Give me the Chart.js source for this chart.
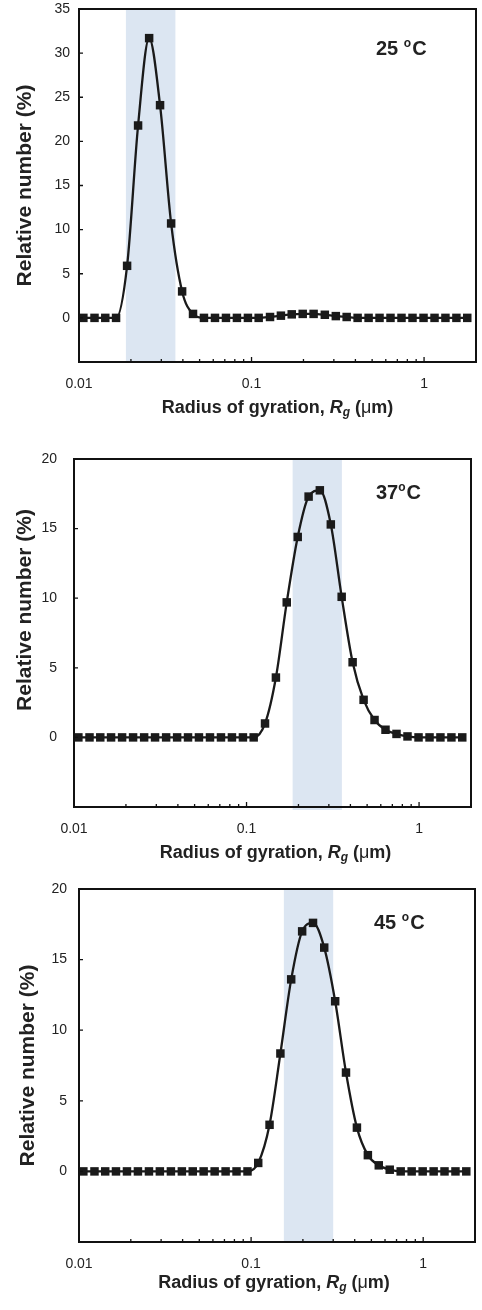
<!DOCTYPE html>
<html>
<head>
<meta charset="utf-8">
<script src="https://cdn.jsdelivr.net/npm/chart.js@4.4.1/dist/chart.umd.min.js"></script>
<style>
  html, body { margin: 0; padding: 0; background: #fff; }
  .panel { position: absolute; left: 0; width: 482px; }
</style>
</head>
<body>
<div class="panel" style="top:0"><canvas id="c25" width="482" height="430"></canvas></div>
<div class="panel" style="top:430px"><canvas id="c37" width="482" height="440"></canvas></div>
<div class="panel" style="top:870px"><canvas id="c45" width="482" height="440"></canvas></div>
<script>
// size classes, radius of gyration (um)
const radius = [0.0106, 0.0123, 0.0142, 0.0164, 0.0190, 0.0220, 0.0255, 0.0295, 0.0342, 0.0396,
                0.0458, 0.0530, 0.0614, 0.0711, 0.0823, 0.0953, 0.110, 0.128, 0.148, 0.171,
                0.198, 0.229, 0.266, 0.308, 0.356, 0.412, 0.477, 0.552, 0.639, 0.740,
                0.857, 0.993, 1.15, 1.33, 1.54, 1.78];

// relative number (%)
const rel25 = [0, 0, 0, 0, 5.9, 21.8, 31.7, 24.1, 10.7, 3.0,
               0.45, 0, 0, 0, 0, 0, 0, 0.1, 0.25, 0.4,
               0.45, 0.45, 0.35, 0.2, 0.1, 0, 0, 0, 0, 0,
               0, 0, 0, 0, 0, 0];
const rel37 = [0, 0, 0, 0, 0, 0, 0, 0, 0, 0,
               0, 0, 0, 0, 0, 0, 0, 1.0, 4.3, 9.7,
               14.4, 17.3, 17.75, 15.3, 10.1, 5.4, 2.7, 1.25, 0.55, 0.25,
               0.07, 0, 0, 0, 0, 0];
const rel45 = [0, 0, 0, 0, 0, 0, 0, 0, 0, 0,
               0, 0, 0, 0, 0, 0, 0.6, 3.3, 8.35, 13.6,
               17.0, 17.6, 15.85, 12.05, 7.0, 3.1, 1.15, 0.43, 0.12, 0,
               0, 0, 0, 0, 0, 0];

// shaded size ranges (um)
const band25 = [0.0187, 0.0362];
const band37 = [0.185, 0.357];
const band45 = [0.155, 0.300];

const xMajor = [0.01, 0.1, 1];
const xRange = [0.01, 2];
const yRange25 = [-5, 35];
const yRange37 = [-5, 20];
const yRange45 = [-5, 20];

const FONT = "'Liberation Sans', Arial, sans-serif";
const INK = "#1a1a1a";

// band behind the curve, box, inside ticks and the texts
const panelDecor = {
  id: "panelDecor",
  beforeDatasetsDraw(chart, args, opts) {
    const { ctx, chartArea: a, scales: { x } } = chart;
    const x0 = x.getPixelForValue(opts.band[0]);
    const x1 = x.getPixelForValue(opts.band[1]);
    ctx.save();
    ctx.fillStyle = "#dce6f2";
    ctx.fillRect(x0, a.top, x1 - x0, a.bottom - a.top + (opts.bandExtra || 0));
    ctx.restore();
  },
  afterDraw(chart, args, opts) {
    const { ctx, chartArea: a, scales: { x, y } } = chart;
    ctx.save();
    ctx.strokeStyle = "#111";
    ctx.lineWidth = 2;
    ctx.strokeRect(a.left, a.top, a.right - a.left, a.bottom - a.top);

    // inside tick marks
    ctx.lineWidth = 1.3;
    ctx.beginPath();
    for (let d = -2; d <= 0; d++) {
      for (let m = 1; m <= 9; m++) {
        const v = m * Math.pow(10, d);
        if (v > xRange[1]) break;
        const px = x.getPixelForValue(v);
        const len = m === 1 ? 5 : 3;
        ctx.moveTo(px, a.bottom);
        ctx.lineTo(px, a.bottom - len);
      }
    }
    for (const t of y.ticks) {
      if (t.value < 0) continue;
      const py = y.getPixelForValue(t.value);
      ctx.moveTo(a.left, py);
      ctx.lineTo(a.left + 4, py);
    }
    ctx.stroke();

    ctx.fillStyle = "#222";
    ctx.textBaseline = "middle";

    // y title
    ctx.save();
    ctx.translate(opts.yTitleX, (a.top + a.bottom) / 2 + (opts.yTitleShift || 0));
    ctx.rotate(-Math.PI / 2);
    ctx.textAlign = "center";
    ctx.font = "bold 21px " + FONT;
    ctx.fillText("Relative number (%)", 0, 0);
    ctx.restore();

    // x title with italic R and subscript g
    const parts = [
      { t: "Radius of gyration, ", f: "bold 18px " + FONT, dy: 0 },
      { t: "R", f: "italic bold 18px " + FONT, dy: 0 },
      { t: "g", f: "italic bold 12px " + FONT, dy: 5 },
      { t: " (", f: "bold 18px " + FONT, dy: 0 },
      { t: "\u03bc", f: "18px " + FONT, dy: 0 },
      { t: "m)", f: "bold 18px " + FONT, dy: 0 },
    ];
    let w = 0;
    for (const p of parts) { ctx.font = p.f; w += ctx.measureText(p.t).width; }
    let cx = (a.left + a.right) / 2 + (opts.xTitleShift || 0) - w / 2;
    const ty = a.bottom + opts.xTitleGap;
    ctx.textAlign = "left";
    for (const p of parts) {
      ctx.font = p.f;
      ctx.fillText(p.t, cx, ty + p.dy);
      cx += ctx.measureText(p.t).width;
    }

    // temperature label
    const lx = opts.labelX;
    const ly = a.top + opts.labelGap;
    ctx.font = "bold 20px " + FONT;
    ctx.fillText(opts.temp + opts.sep, lx, ly);
    let lw = ctx.measureText(opts.temp + opts.sep).width;
    ctx.font = "bold 12px " + FONT;
    ctx.fillText("o", lx + lw, ly - 5);
    lw += ctx.measureText("o").width + 1;
    ctx.font = "bold 20px " + FONT;
    ctx.fillText("C", lx + lw, ly);

    ctx.restore();
  }
};

function makePanel(id, values, band, yRange, lay) {
  const H = document.getElementById(id).height;
  return new Chart(document.getElementById(id), {
    type: "line",
    data: {
      datasets: [{
        data: radius.map((r, i) => ({ x: r, y: values[i] })),
        borderColor: INK,
        borderWidth: 2.3,
        cubicInterpolationMode: "monotone",
        pointStyle: "rect",
        pointRadius: 6,
        pointBackgroundColor: INK,
        pointBorderWidth: 0,
      }]
    },
    options: {
      responsive: false,
      animation: false,
      events: [],
      layout: { padding: { left: 0, top: lay.top, right: 482 - lay.right, bottom: 0 } },
      plugins: {
        legend: { display: false },
        tooltip: { enabled: false },
        panelDecor: lay.decor,
      },
      scales: {
        x: {
          type: "logarithmic",
          min: xRange[0],
          max: xRange[1],
          grid: { display: false, drawTicks: false },
          border: { display: false },
          afterBuildTicks: s => { s.ticks = xMajor.map(v => ({ value: v })); },
          afterFit: s => { s.height = H - lay.bottom; s.paddingLeft = 0; s.paddingRight = 0; },
          ticks: {
            padding: 14,
            color: "#222",
            font: { family: FONT, size: 14 },
            callback: v => String(v),
          }
        },
        y: {
          min: yRange[0],
          max: yRange[1],
          grid: { display: false, drawTicks: false },
          border: { display: false },
          afterFit: s => { s.width = lay.left; s.paddingTop = 0; s.paddingBottom = 0; },
          ticks: {
            stepSize: 5,
            padding: lay.yPad,
            color: "#222",
            font: { family: FONT, size: 14 },
            callback: v => (v < 0 ? "" : String(v)),
          }
        }
      }
    },
    plugins: [panelDecor]
  });
}

makePanel("c25", rel25, band25, yRange25, {
  left: 79, right: 477, top: 9, bottom: 362, yPad: 9,
  decor: { band: band25, temp: "25", sep: " ", labelX: 376, labelGap: 40,
           yTitleX: 25, xTitleGap: 46, xTitleShift: 0 }
});
makePanel("c37", rel37, band37, yRange37, {
  left: 74, right: 471, top: 29, bottom: 377, yPad: 17,
  decor: { band: band37, bandExtra: 3, temp: "37", sep: "", labelX: 376, labelGap: 34,
           yTitleX: 25, yTitleShift: -23, xTitleGap: 46, xTitleShift: 3 }
});
makePanel("c45", rel45, band45, yRange45, {
  left: 79, right: 475, top: 19, bottom: 372, yPad: 12,
  decor: { band: band45, temp: "45", sep: " ", labelX: 374, labelGap: 34,
           yTitleX: 28, xTitleGap: 41, xTitleShift: -3 }
});
</script>
</body>
</html>
